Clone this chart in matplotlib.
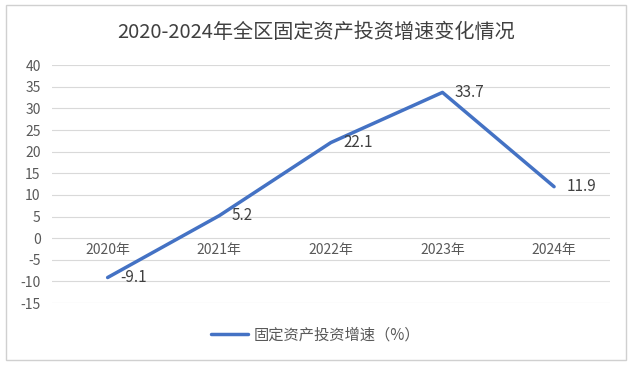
import matplotlib
matplotlib.use("Agg")
import matplotlib.pyplot as plt
from matplotlib.patches import Rectangle

plt.rcParams['font.family'] = ['Noto Sans CJK SC', 'DejaVu Sans']

years = ['2020年', '2021年', '2022年', '2023年', '2024年']
growth = [-9.1, 5.2, 22.1, 33.7, 11.9]
yticks = list(range(-15, 45, 5))

text_color = '#595959'
line_color = '#4472C4'
grid_color = '#d9d9d9'

fig = plt.figure(figsize=(6.32, 3.66), dpi=100)
ax = fig.add_axes([0.082, 0.172, 0.883, 0.650])

x = list(range(len(years)))
ax.plot(x, growth, color=line_color, linewidth=2.5, solid_capstyle='round',
        label='固定资产投资增速（%）')

for xi, v in zip(x, growth):
    ax.annotate(f'{v}', (xi, v), xytext=(9, 0), textcoords='offset points',
                ha='left', va='center', fontsize=11, color='#404040')

# category labels sit just below the zero line
for xi, name in zip(x, years):
    ax.text(xi, -1.2, name, ha='center', va='top', fontsize=10, color=text_color)

ax.set_xlim(-0.5, len(years) - 0.5)
ax.set_ylim(-15, 40)
ax.set_yticks(yticks)
ax.set_yticklabels([str(t) for t in yticks], fontsize=10, color=text_color)
ax.set_xticks([])
ax.grid(axis='y', color=grid_color, linewidth=0.8)
ax.set_axisbelow(True)
ax.tick_params(axis='y', length=0, pad=8)
for s in ax.spines.values():
    s.set_visible(False)

fig.text(0.5, 0.912, '2020-2024年全区固定资产投资增速变化情况', ha='center', va='center',
         fontsize=14.5, color='#404040')

leg = fig.legend(loc='center', bbox_to_anchor=(0.5, 0.085), frameon=False,
                 fontsize=11, handlelength=2.4, handletextpad=0.4, labelcolor=text_color)

fig.patches.append(Rectangle((0.009, 0.016), 0.982, 0.97, transform=fig.transFigure,
                             fill=False, edgecolor='#d0d0d0', linewidth=1))

fig.savefig('out.png', dpi=100)
